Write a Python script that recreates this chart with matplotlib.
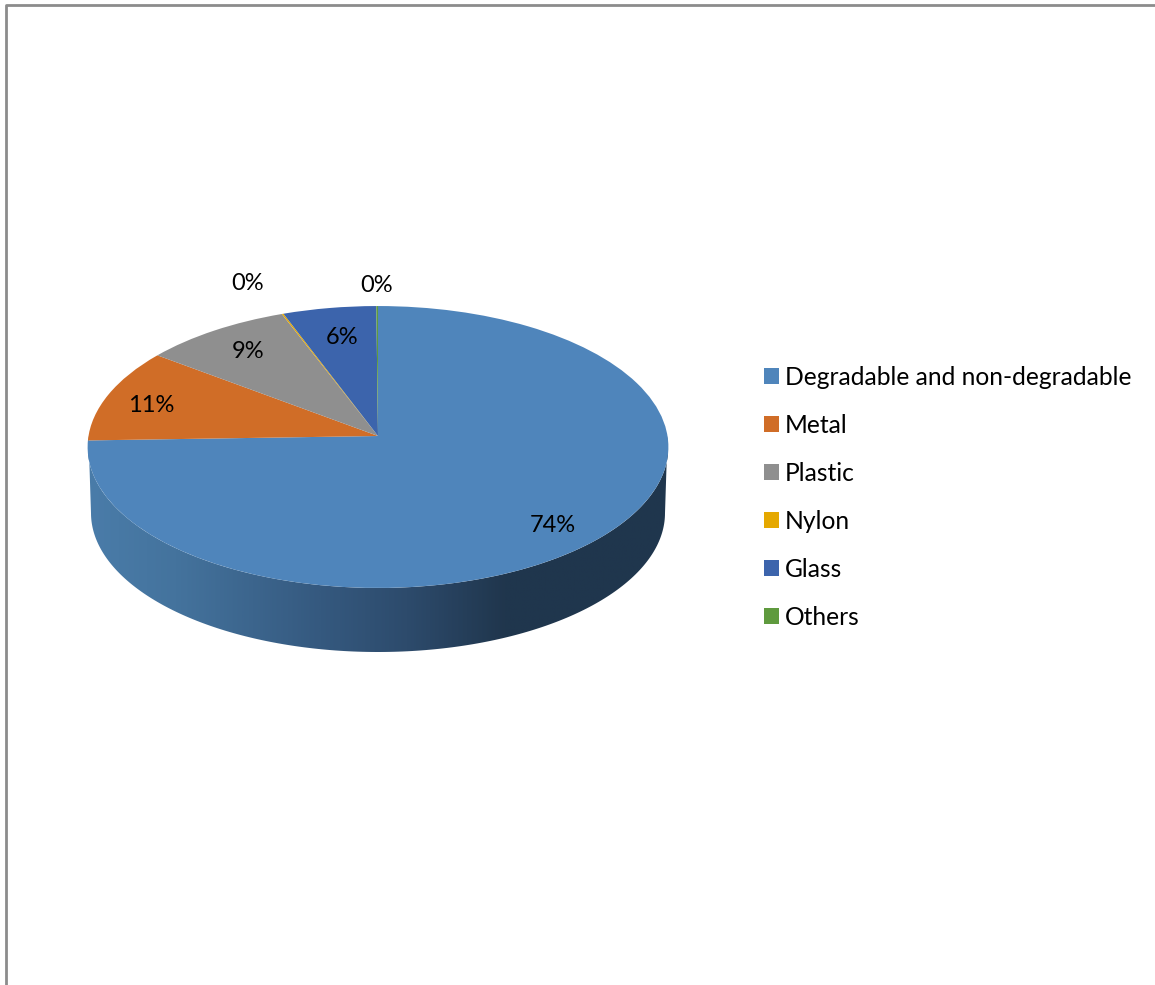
import numpy as np
import matplotlib
matplotlib.use('Agg')
import matplotlib.pyplot as plt
from matplotlib.colors import LinearSegmentedColormap
from matplotlib.patches import Polygon
from matplotlib.transforms import Transform

categories = ['Degradable and non-degradable', 'Metal', 'Plastic', 'Nylon', 'Glass', 'Others']
values = [74.49, 10.8, 8.9, 0.1, 5.6, 0.1]
pct_labels = ['74%', '11%', '9%', '0%', '6%', '0%']
colors = ['#4f85bb', '#d06d27', '#8f8f8f', '#e5a800', '#3c64ac', '#5f9a3e']

plt.rcParams['font.family'] = ['Lato', 'DejaVu Sans']

# figure is laid out in reference pixels, y going down
fig = plt.figure(figsize=(11.55, 9.85), dpi=100)
ax = fig.add_axes([0, 0, 1, 1])


class Tilt(Transform):
    # unit pie -> tilted disc, near edge a bit bigger than far edge
    input_dims = 2
    output_dims = 2
    is_affine = False

    def transform_non_affine(self, xy):
        xy = np.asarray(xy, dtype=float)
        d = 1 + 0.078 * xy[:, 1]
        return np.column_stack([378 + 289.5 * xy[:, 0] / d, 436 - 140.1 * xy[:, 1] / d])


tilt = Tilt()

# side wall with the dark shading towards the right
t = np.linspace(np.pi, 2 * np.pi, 200)
upper = tilt.transform(np.column_stack([np.cos(t), np.sin(t)]))
lower = np.column_stack([378 + 287 * np.cos(t), 513 - 139 * np.sin(t)])
wall = Polygon(np.vstack([upper, lower[::-1]]), closed=True, facecolor='none', edgecolor='none')
ax.add_patch(wall)
shade = LinearSegmentedColormap.from_list('wall', [
    (0.0, '#4a7ca9'), (0.15, '#44739d'), (0.4, '#35597f'),
    (0.55, '#2d4b6c'), (0.72, '#20364d'), (1.0, '#1f364d')])
img = ax.imshow(np.linspace(0, 1, 400).reshape(1, -1), cmap=shade, aspect='auto',
                extent=(88, 668, 660, 430), zorder=1)
img.set_clip_path(wall)

wedges, _ = ax.pie(values, colors=colors, startangle=90, counterclock=False,
                   wedgeprops={'linewidth': 0, 'zorder': 3})
for w in wedges:
    w.set_transform(tilt + ax.transData)

ax.set_aspect('auto')
ax.set_xlim(0, 1155)
ax.set_ylim(985, 0)
ax.axis('off')

label_pos = [(553, 526), (151, 406), (248, 352), (248, 284), (342, 338), (377, 286)]
for s, (x, y) in zip(pct_labels, label_pos):
    ax.text(x, y, s, fontsize=17, color='black', ha='center', va='center', zorder=5)

ax.legend(wedges, categories, loc='upper left', bbox_to_anchor=(764, 366),
          bbox_transform=ax.transData, frameon=False, fontsize=17.7, borderpad=0, borderaxespad=0,
          handlelength=0.61, handleheight=0.61, handletextpad=0.24, labelspacing=1.015)

# grey frame, cut off at the right and bottom
ax.plot([6, 6, 1160], [990, 5, 5], color='#8c8c8c', lw=2, clip_on=False, zorder=6)

fig.savefig('out.png', dpi=100, facecolor='white')
